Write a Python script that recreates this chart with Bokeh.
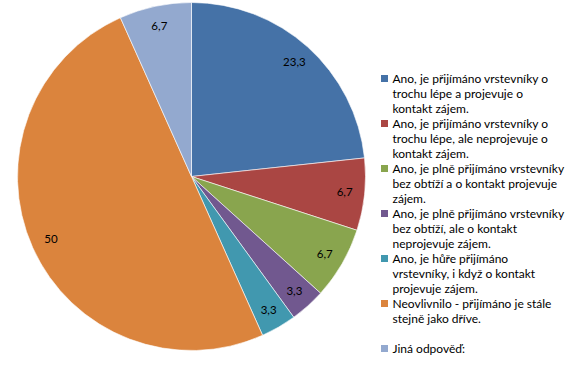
import math
from bokeh.plotting import figure
from bokeh.models import Range1d, ColumnDataSource
from bokeh.core.properties import value
from bokeh.embed import file_html
from bokeh.resources import INLINE

# ---- data ----
categories = [
    "Ano, je přijímáno vrstevníky o\ntrochu lépe a projevuje o\nkontakt zájem.",
    "Ano, je přijímáno vrstevníky o\ntrochu lépe, ale neprojevuje o\nkontakt zájem.",
    "Ano, je plně přijímáno vrstevníky\nbez obtíží a o kontakt projevuje\nzájem.",
    "Ano, je plně přijímáno vrstevníky\nbez obtíží, ale o kontakt\nneprojevuje zájem.",
    "Ano, je hůře přijímáno\nvrstevníky, i když o kontakt\nprojevuje zájem.",
    "Neovlivnilo - přijímáno je stále\nstejně jako dříve.",
    "Jiná odpověď:",
]
values = [23.3, 6.7, 6.7, 3.3, 3.3, 50, 6.7]
value_labels = ["23,3", "6,7", "6,7", "3,3", "3,3", "50", "6,7"]
colors = ["#4572A7", "#AA4643", "#89A54E", "#71588F", "#4198AF", "#DB843D", "#93A9CF"]

W, H = 578, 377
cx, cy, R = 191, H - 176, 174

p = figure(width=W, height=H, x_range=Range1d(0, W), y_range=Range1d(0, H),
           output_backend="svg", toolbar_location=None, min_border=0,
           background_fill_color="white", border_fill_color="white")
p.axis.visible = False
p.grid.visible = False
p.outline_line_color = None

total = sum(values)
starts, ends, lx, ly = [], [], [], []
cum = 0.0
for v in values:
    a0 = math.pi / 2 - 2 * math.pi * cum / total
    cum += v
    a1 = math.pi / 2 - 2 * math.pi * cum / total
    starts.append(a1)
    ends.append(a0)
    mid = (a0 + a1) / 2
    lx.append(cx + 0.885 * R * math.cos(mid))
    ly.append(cy + 0.885 * R * math.sin(mid))

src = ColumnDataSource(dict(start=starts, end=ends, color=colors,
                            lx=lx, ly=ly, lab=value_labels))
p.wedge(x=cx, y=cy, radius=R, start_angle="start", end_angle="end",
        fill_color="color", line_color="white", line_width=0.6, source=src)
p.text(x="lx", y="ly", text="lab", source=src, text_align="center",
       text_baseline="middle", text_font=value("Lato"), text_font_size="11.5px",
       text_color="#000000")

# ---- legend (manual, multi-line) ----
sq_x, sq_size, tx = 384, 7, 392
first_y, item_step, line_step = 78, 45, 15
sq_xs, sq_ys, t_xs, t_ys, t_txt = [], [], [], [], []
for i, cat in enumerate(categories):
    y0 = first_y + item_step * i
    sq_xs.append(sq_x)
    sq_ys.append(H - y0)
    for j, line in enumerate(cat.split("\n")):
        t_xs.append(tx)
        t_ys.append(H - (y0 + j * line_step))
        t_txt.append(line)

p.rect(x=sq_xs, y=sq_ys, width=sq_size, height=sq_size, fill_color=colors,
       line_color=None)
p.text(x=t_xs, y=t_ys, text=t_txt, text_align="left", text_baseline="middle",
       text_font=value("Lato"), text_font_size="12px", text_color="#000000")

open("out.html", "w").write(file_html(p, INLINE))
